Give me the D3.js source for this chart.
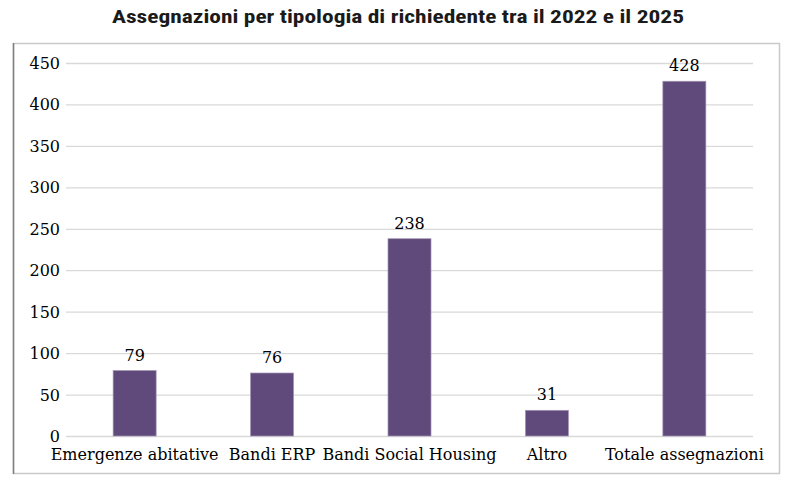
<!DOCTYPE html>
<html><head><meta charset="utf-8">
<script src="https://cdn.jsdelivr.net/npm/d3@7"></script>
<style>body{margin:0;background:#fff}</style>
</head><body>
<svg id="c" width="794" height="480"></svg>
<script>
const categories = ["Emergenze abitative","Bandi ERP","Bandi Social Housing","Altro","Totale assegnazioni"];
const values = [79, 76, 238, 31, 428];
const yTicks = [0,50,100,150,200,250,300,350,400,450];
const title = "Assegnazioni per tipologia di richiedente tra il 2022 e il 2025";

const svg = d3.select("#c");
svg.append("rect").attr("x",13.5).attr("y",43.5).attr("width",766).attr("height",430)
  .attr("fill","#fff").attr("stroke","#c9c9c9").attr("stroke-width",1.5);
svg.append("line").attr("x1",13.5).attr("x2",13.5).attr("y1",43).attr("y2",474).attr("stroke","#7f7f7f").attr("stroke-width",1.5);

svg.append("text").attr("x",398).attr("y",23).attr("text-anchor","middle")
  .attr("font-family","'Liberation Sans Narrow','Roboto Condensed','Liberation Sans',sans-serif")
  .attr("font-weight","bold").attr("font-size",18.5).attr("fill","#1a1a1a")
  .attr("textLength",572).attr("lengthAdjust","spacingAndGlyphs").text(title);

const x = d3.scaleBand().domain(categories).range([66,753]).paddingInner(0.687).paddingOuter(0.343);
const y = d3.scaleLinear().domain([0,450]).range([436,63]);

const grid = svg.append("g");
grid.selectAll("line").data(yTicks).join("line")
  .attr("x1",66).attr("x2",753).attr("y1",d=>y(d)+0.5).attr("y2",d=>y(d)+0.5)
  .attr("stroke","#d9d9d9").attr("stroke-width",1.3);

const serif = "'DejaVu Serif','Liberation Serif',serif";
svg.append("g").selectAll("text").data(yTicks).join("text")
  .attr("x",60).attr("y",d=>y(d)+6).attr("text-anchor","end")
  .attr("font-family",serif).attr("font-size",16).attr("fill","#000").text(d=>d);

svg.append("g").selectAll("rect").data(values).join("rect")
  .attr("x",(d,i)=>x(categories[i])).attr("width",x.bandwidth())
  .attr("y",d=>y(d)).attr("height",d=>y(0)-y(d))
  .attr("fill","#604a7b").attr("stroke","#a395b5").attr("stroke-width",0.7);

svg.append("g").selectAll("text").data(values).join("text")
  .attr("x",(d,i)=>x(categories[i])+x.bandwidth()/2).attr("y",d=>y(d)-10)
  .attr("text-anchor","middle").attr("font-family",serif).attr("font-size",16).attr("fill","#000").text(d=>d);

svg.append("g").selectAll("text").data(categories).join("text")
  .attr("x",d=>x(d)+x.bandwidth()/2).attr("y",460)
  .attr("text-anchor","middle").attr("font-family",serif).attr("font-size",16).attr("fill","#000").text(d=>d);
</script>
</body></html>
